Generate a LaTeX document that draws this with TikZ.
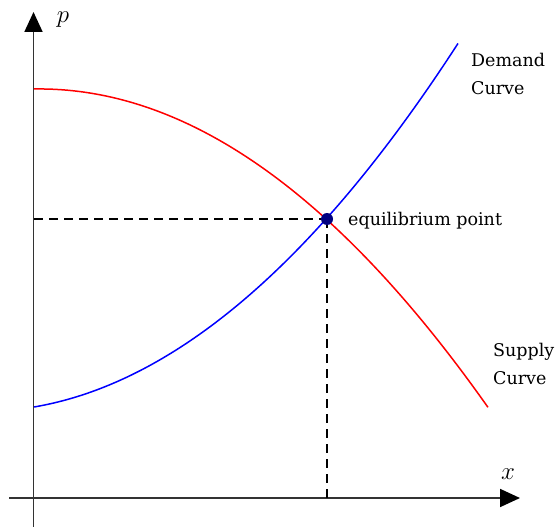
\documentclass[tikz,border=0pt]{standalone}
\usepackage{fontspec}
\setmainfont{DejaVu Serif}
\usetikzlibrary{arrows.meta}
\definecolor{navyblue}{RGB}{0,0,128}
\tikzset{
  axisline/.style={line width=1.8pt, draw=black!80, -{Triangle[length=20pt,width=18pt,color=black]}},
  guide/.style={line width=1.3pt, dash pattern=on 9pt off 6pt},
  supplyline/.style={line width=1.5pt, draw=red},
  demandline/.style={line width=1.5pt, draw=blue},
  lbl/.style={inner sep=0pt, font=\fontsize{17.5}{21}\selectfont, anchor=base west},
  axlbl/.style={inner sep=0pt, font=\fontsize{26}{26}\selectfont},
  eqdot/.style={circle, fill=navyblue, minimum size=12pt, inner sep=0pt}
}
\begin{document}
\begin{tikzpicture}[x=1pt, y=-1pt]
\useasboundingbox (0,0) rectangle (557,527);
% axes
\coordinate (ybot) at (33.5,527);
\coordinate (ytop) at (33.5,12);
\coordinate (xleft) at (9,498);
\coordinate (xright) at (520,498);
\draw[axisline] (ybot) -- (ytop);
\draw[axisline] (xleft) -- (xright);
\node[axlbl] (plbl) at (63,20) {$p$};
\node[axlbl] (xlbl) at (508,474) {$x$};
% equilibrium
\coordinate (eqc) at (327,219);
\coordinate (py) at (34,219);
\coordinate (qx) at (327,498);
\draw[guide] (py) -- (eqc);
\draw[guide] (eqc) -- (qx);
% curves
\draw[supplyline] plot[domain=0:4.54, samples=120, smooth] ({34+100*\x}, {89+15.81*\x*\x-1.65*\x});
\draw[demandline] plot[domain=0:4.24, samples=120, smooth] ({34+100*\x}, {407-16.19*\x*\x-17.1*\x});
\node[eqdot] (eq) at (eqc) {};
% labels
\node[lbl] (eqlbl) at (348,225) {equilibrium point};
\node[lbl] (dem1) at (471,66.7) {Demand};
\node[lbl] (dem2) at (471,94) {Curve};
\node[lbl] (sup1) at (493,356.7) {Supply};
\node[lbl] (sup2) at (493,384) {Curve};
\end{tikzpicture}
\end{document}
